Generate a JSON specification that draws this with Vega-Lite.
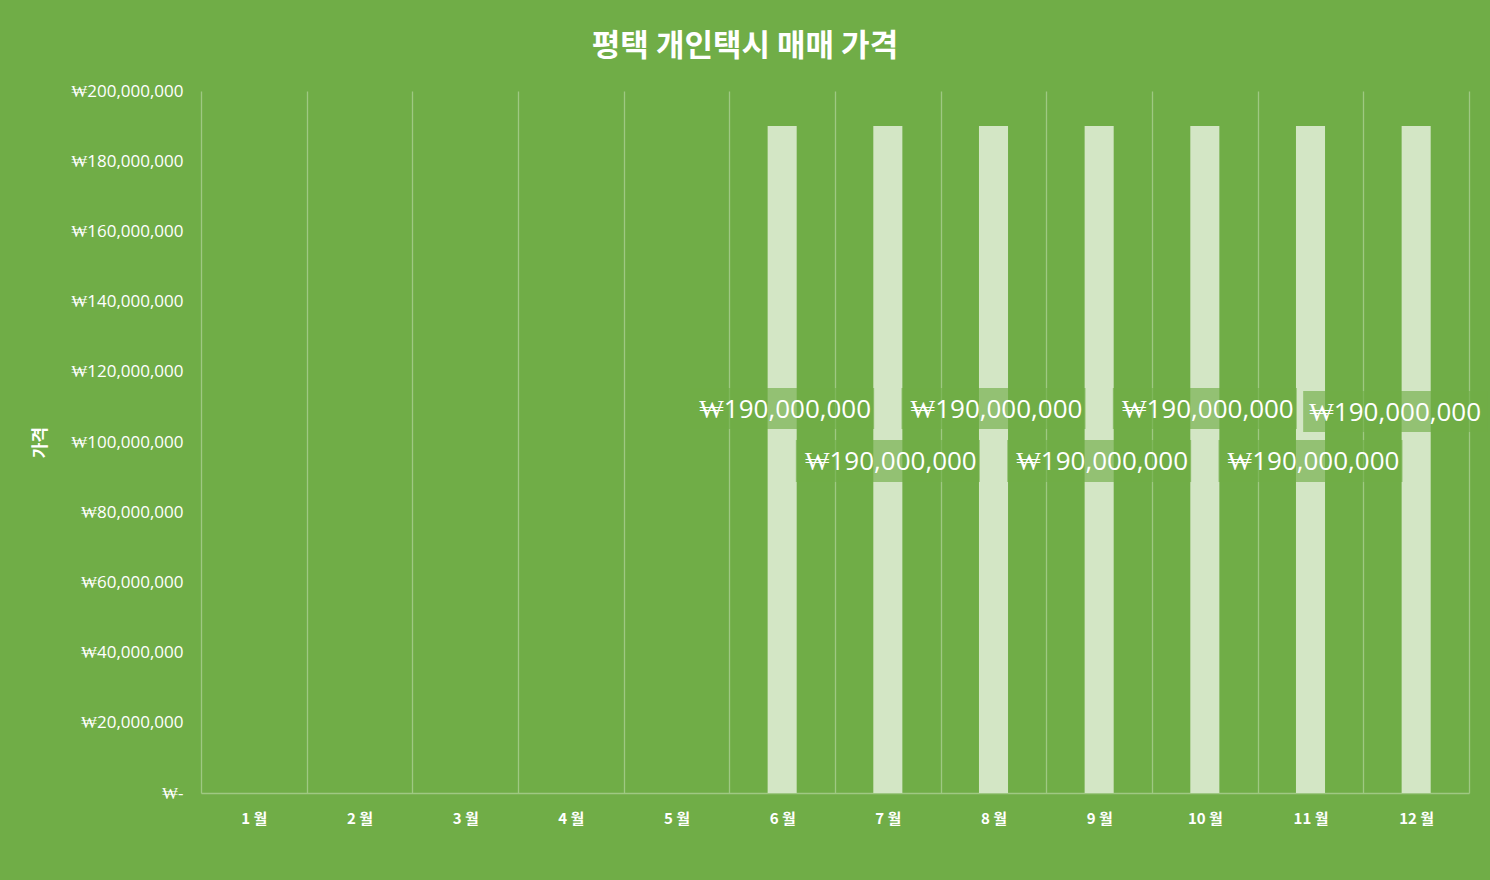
{
  "$schema": "https://vega.github.io/schema/vega-lite/v6.json",
  "width": 1268,
  "height": 702,
  "autosize": "none",
  "padding": {"left": 201, "top": 91, "right": 21, "bottom": 87},
  "background": "#70ad47",
  "config": {
    "locale": {"number": {"decimal": ".", "thousands": ",", "grouping": [3], "currency": ["₩", ""]}},
    "view": {"stroke": null},
    "font": "Noto Sans CJK KR"
  },
  "title": {
    "text": "평택 개인택시 매매 가격",
    "color": "white",
    "fontSize": 31,
    "fontWeight": "bold",
    "anchor": "middle",
    "frame": "group",
    "dx": -90,
    "offset": 19
  },
  "data": {
    "values": [
      {"month": "1 월", "m": 1, "price": null},
      {"month": "2 월", "m": 2, "price": null},
      {"month": "3 월", "m": 3, "price": null},
      {"month": "4 월", "m": 4, "price": null},
      {"month": "5 월", "m": 5, "price": null},
      {"month": "6 월", "m": 6, "price": 190000000},
      {"month": "7 월", "m": 7, "price": 190000000},
      {"month": "8 월", "m": 8, "price": 190000000},
      {"month": "9 월", "m": 9, "price": 190000000},
      {"month": "10 월", "m": 10, "price": 190000000},
      {"month": "11 월", "m": 11, "price": 190000000},
      {"month": "12 월", "m": 12, "price": 190000000}
    ]
  },
  "encoding": {
    "x": {
      "field": "month",
      "type": "nominal",
      "sort": null,
      "scale": {
        "domain": ["1 월", "2 월", "3 월", "4 월", "5 월", "6 월", "7 월", "8 월", "9 월", "10 월", "11 월", "12 월"],
        "paddingInner": 0,
        "paddingOuter": 0
      },
      "axis": {
        "title": null,
        "labelAngle": 0,
        "labelColor": "white",
        "labelFontSize": 15,
        "labelFontWeight": "bold",
        "labelPadding": 18,
        "ticks": false,
        "tickBand": "extent",
        "grid": true,
        "gridColor": "#9fc883",
        "gridWidth": 1.3,
        "domainColor": "#9fc883",
        "domainWidth": 1.3
      }
    },
    "y": {
      "field": "price",
      "type": "quantitative",
      "scale": {"domain": [0, 200000000], "nice": false},
      "axis": {
        "title": "가격",
        "titleColor": "white",
        "titleFontSize": 17,
        "titleFontWeight": "bold",
        "titlePadding": 21,
        "labelColor": "white",
        "labelFont": "Open Sans",
        "labelFontSize": 17,
        "labelPadding": 18,
        "values": [0, 20000000, 40000000, 60000000, 80000000, 100000000, 120000000, 140000000, 160000000, 180000000, 200000000],
        "labelExpr": "datum.value === 0 ? '₩-' : '₩' + format(datum.value, ',')",
        "domain": false,
        "ticks": false,
        "grid": false
      }
    }
  },
  "layer": [
    {
      "mark": {"type": "bar", "width": {"band": 0.275}, "color": "#d3e6c5"}
    },
    {
      "transform": [{"filter": "datum.price != null && datum.m % 2 == 0 && datum.m != 12"}],
      "mark": {"type": "bar", "width": 184, "color": "#70ad47", "opacity": 0.65, "yOffset": 262, "y2Offset": 303},
      "encoding": {"y2": {"field": "price"}}
    },
    {
      "transform": [{"filter": "datum.price != null && datum.m % 2 == 1"}],
      "mark": {"type": "bar", "width": 184, "color": "#70ad47", "opacity": 0.65, "yOffset": 314, "y2Offset": 356},
      "encoding": {"y2": {"field": "price"}}
    },
    {
      "transform": [{"filter": "datum.price != null && datum.m % 2 == 0 && datum.m != 12"}],
      "mark": {"type": "text", "color": "white", "font": "Open Sans", "fontSize": 26, "baseline": "middle", "dx": 3, "dy": 284},
      "encoding": {"text": {"field": "price", "type": "quantitative", "format": "$,"}}
    },
    {
      "transform": [{"filter": "datum.price != null && datum.m % 2 == 1"}],
      "mark": {"type": "text", "color": "white", "font": "Open Sans", "fontSize": 26, "baseline": "middle", "dx": 3, "dy": 336},
      "encoding": {"text": {"field": "price", "type": "quantitative", "format": "$,"}}
    },
    {
      "transform": [{"filter": "datum.m == 12"}],
      "mark": {"type": "bar", "width": 184, "color": "#70ad47", "opacity": 0.65, "xOffset": -21, "yOffset": 265, "y2Offset": 306},
      "encoding": {"y2": {"field": "price"}}
    },
    {
      "transform": [{"filter": "datum.m == 12"}],
      "mark": {"type": "text", "color": "white", "font": "Open Sans", "fontSize": 26, "baseline": "middle", "dx": -21, "dy": 287},
      "encoding": {"text": {"field": "price", "type": "quantitative", "format": "$,"}}
    }
  ]
}
